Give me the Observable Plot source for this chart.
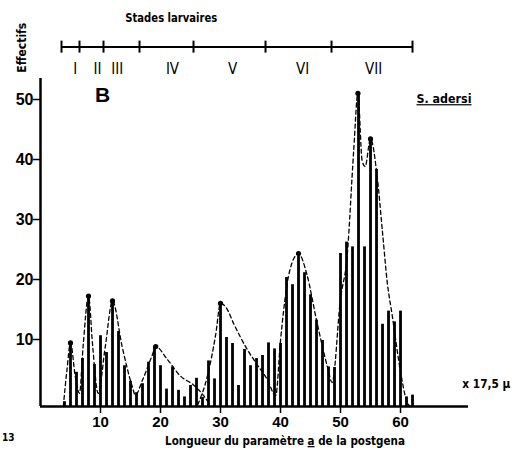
<!DOCTYPE html>
<html><head><meta charset="utf-8">
<script src="https://cdn.jsdelivr.net/npm/d3@7"></script>
<script src="https://cdn.jsdelivr.net/npm/@observablehq/plot@0.6"></script>
<style>body{margin:0;background:#fff}</style>
</head><body><div id="chart"></div>
<script>
// Bar data: parameter length class (x 17,5 µ) and counts (effectifs)
const lengths = [4,5,6,7,8,9,10,11,12,13,14,15,16,17,18,19,20,21,22,23,24,25,26,27,28,29,30,31,32,33,34,35,36,37,38,39,40,41,42,43,44,45,46,47,48,49,50,51,52,53,54,55,56,57,58,59,60,61,62];
const counts  = [0.8,10.6,5.7,8,18.4,7,11.8,9,17.6,12.5,6.8,4.2,2.3,3.8,7.4,9.9,6.8,2.9,6.6,2.7,1.6,3.5,4.7,1.5,7.6,4.6,17.2,11.5,10.5,3.5,9.5,6.8,8,8.5,10.6,9.6,10.5,21.5,20.3,25.5,22.3,18.6,14.4,11,6.6,6.5,25.5,27.4,26.6,52.2,26.6,44.6,39.5,13.7,15.9,14.1,15.9,1.6,1.9];

// Dashed envelope curves
const curveAx = [3.8,4.4,5,5.8,6.5,7.1,8,8.7,9.6,10.8,12,13.6,15.3,15.8,17,18.6,19.2,21.1,23.3,25.6,27.2,28.2];
const curveAy = [0,6,10.6,5,2.2,10,18.4,10,2.2,10,17.6,10,3.3,1.9,4.4,8.5,10,7.9,5.1,3.5,1.8,0.3];
const curveBx = [26.2,27.8,29.2,30,31,32.2,34.4,36.1,37.8,39.2,40,40.7,41.5,43,44.4,46,47.8,48.6,50,51.1,52.2,52.9,53.6,54.1,55,56.1,57,57.8,58.6,60,61,61.6];
const curveBy = [0.3,5,12,17.2,16.4,13.8,9.6,7,4.5,1.8,11,17.5,22.5,25.5,22,14.4,6.7,4,18,25,42.7,52.2,41,40,44.6,38.4,29,20.6,15.3,5.8,1,0];

// Peak dots
const peakX = [5,8,12,19.2,30,43,52.9,55];
const peakY = [10.6,18.4,17.6,10,17.2,25.5,52.2,44.6];

// Larval stages
const stageBounds = [3.5,6.5,10.5,16.5,25.5,37.5,48.5,62];
const stageLabels = ["I","II","III","IV","V","VI","VII"];
const stageLabelX = [5.8,9.5,12.8,22,32,43.7,55.5];

// Ticks
const xTicks = [10,20,30,40,50,60];
const yTicks = [10,20,30,40,50];

const COND = "'Liberation Sans Narrow','DejaVu Sans Condensed','Roboto Condensed','Liberation Sans',sans-serif";
const SANS = "'Liberation Sans',Arial,sans-serif";

const bars = lengths.map((x,i)=>({x, y: counts[i]}));
const curveA = curveAx.map((x,i)=>({x, y: curveAy[i]}));
const curveB = curveBx.map((x,i)=>({x, y: curveBy[i]}));
const peaks = peakX.map((x,i)=>({x, y: peakY[i]}));
const stages = stageLabels.map((t,i)=>({t, x: stageLabelX[i]}));

const XMAX = 71.33, YMAX = 54.67;

const plot = Plot.plot({
  width: 532, height: 453,
  marginTop: 78, marginBottom: 47, marginLeft: 40, marginRight: 64,
  x: {type: "linear", domain: [0, XMAX], axis: null},
  y: {type: "linear", domain: [0, YMAX], axis: null},
  style: {fontFamily: SANS, background: "#fff", color: "#000", overflow: "hidden"},
  marks: [
    Plot.ruleX(bars, {x: "x", y1: 0, y2: "y", stroke: "#000", strokeWidth: 2.8}),
    Plot.line(curveA, {x: "x", y: "y", curve: "monotone-x", stroke: "#000", strokeWidth: 1.3, strokeDasharray: "4,3"}),
    Plot.line(curveB, {x: "x", y: "y", curve: "monotone-x", stroke: "#000", strokeWidth: 1.3, strokeDasharray: "4,3"}),
    Plot.dot(peaks, {x: "x", y: "y", r: 2.6, fill: "#000", stroke: "none"}),
    Plot.ruleY([0], {x1: 0, x2: XMAX, stroke: "#000", strokeWidth: 2.5}),
    Plot.ruleX([0], {y1: 0, y2: YMAX, stroke: "#000", strokeWidth: 2.5}),
    Plot.axisX({ticks: xTicks, tickSize: 7, tickPadding: 3, fontSize: 15, fontWeight: "bold", label: null, strokeWidth: 1.5}),
    Plot.axisY({ticks: yTicks, tickSize: 7, tickPadding: 0, dy: -7, fontSize: 16, fontWeight: "bold", label: null, strokeWidth: 1.5}),
    // stage bar
    Plot.ruleY([59.9], {x1: stageBounds[0], x2: stageBounds[stageBounds.length-1], stroke: "#000", strokeWidth: 2}),
    Plot.ruleX(stageBounds, {y1: 58.9, y2: 60.9, stroke: "#000", strokeWidth: 2}),
    Plot.text(stages, {x: "x", y: 56.2, text: "t", fontSize: 15, fontFamily: COND}),
    Plot.text(["Stades larvaires"], {x: 21.8, y: 64.7, text: d => d, fontSize: 13, fontWeight: "bold", fontFamily: COND}),
    Plot.text(["Effectifs"], {x: -3, y: 59.8, text: d => d, rotate: -90, fontSize: 12, fontWeight: "bold", fontFamily: COND}),
    Plot.text(["B"], {x: 10.33, y: 51.8, text: d => d, fontSize: 21, fontWeight: "bold", fontFamily: SANS}),
    Plot.text(["S. adersi"], {x: 67.25, y: 51.2, text: d => d, fontSize: 12, fontWeight: "bold", fontFamily: COND}),
    Plot.text(["x 17,5 μ"], {x: 74.3, y: 3.8, text: d => d, fontSize: 12, fontWeight: "bold", fontFamily: COND}),
    Plot.text(["13"], {x: -6.4, y: -5.2, text: d => d, textAnchor: "start", fontSize: 10, fontWeight: "bold", fontFamily: COND})
  ]
});

document.getElementById("chart").appendChild(plot);

const svg = d3.select(plot);
const widths = {"Stades larvaires": 92, "Effectifs": 50, "S. adersi": 55, "x 17,5 μ": 48};
svg.selectAll("text").each(function() {
  const t = this.textContent;
  if (widths[t]) {
    d3.select(this).attr("textLength", widths[t]).attr("lengthAdjust", "spacingAndGlyphs");
  }
  if (t === "S. adersi") d3.select(this).style("text-decoration", "underline");
});

// x-axis caption with underlined "a", horizontally condensed to the reference width
const capG = svg.append("g");
const cap = capG.append("text")
  .attr("x", 0).attr("y", 0)
  .attr("font-family", COND).attr("font-weight", "bold").attr("font-size", 12.5)
  .attr("fill", "#000");
cap.append("tspan").text("Longueur du paramètre ");
cap.append("tspan").style("text-decoration", "underline").text("a");
cap.append("tspan").text(" de la postgena");
const natural = cap.node().getComputedTextLength() || 270;
capG.attr("transform", `translate(285,445) scale(${240 / natural},1)`);
</script>
</body></html>
